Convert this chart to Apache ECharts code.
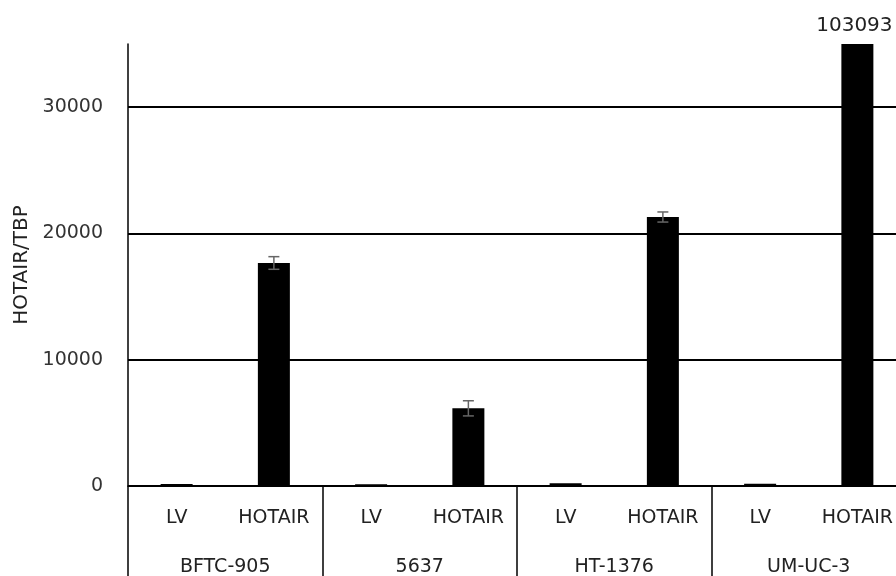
<!DOCTYPE html>
<html>
<head>
<meta charset="utf-8">
<script src="https://cdn.jsdelivr.net/npm/echarts@6/dist/echarts.min.js"></script>
<style>
html,body{margin:0;padding:0;background:#fff;}
#chart{width:896px;height:576px;}
</style>
</head>
<body>
<div id="chart"></div>
<script>
// ---- data ----
const groups = ['BFTC-905', '5637', 'HT-1376', 'UM-UC-3'];
const subLabels = ['LV', 'HOTAIR'];
const lvValues = [150, 130, 220, 180];
const hotairValues = [17660, 6150, 21300, 103093];
const hotairErrors = [500, 600, 400, null];
const yTicks = [0, 10000, 20000, 30000];
const yMax = 35000;
const labelledValue = 103093;

// ---- build ----
const categories = [];
const barValues = [];
const errData = [];
groups.forEach((g, i) => {
  categories.push(subLabels[0]);
  barValues.push(lvValues[i]);
  categories.push(subLabels[1]);
  barValues.push(hotairValues[i]);
  if (hotairErrors[i] != null) errData.push([i * 2 + 1, hotairValues[i], hotairErrors[i]]);
});

const font = 'DejaVu Sans';
const chart = echarts.init(document.getElementById('chart'), null, {renderer: 'canvas'});
chart.setOption({
  animation: false,
  backgroundColor: '#fff',
  grid: {left: 128, top: 44, width: 778, height: 442, containLabel: false, outerBoundsMode: 'none'},
  xAxis: [{
    type: 'category',
    data: categories,
    axisLine: {show: true, lineStyle: {color: '#000', width: 1.5}},
    axisTick: {show: false},
    axisLabel: {interval: 0, margin: 23, fontFamily: font, fontSize: 19, color: '#222'},
    splitLine: {show: false}
  }, {
    type: 'category',
    data: groups,
    position: 'bottom',
    axisLine: {show: false},
    axisTick: {show: true, length: 95, lineStyle: {color: '#000', width: 1.5}},
    axisLabel: {interval: 0, margin: 72, fontFamily: font, fontSize: 19, color: '#222'}
  }],
  yAxis: {
    type: 'value',
    min: 0,
    max: yMax,
    interval: 10000,
    name: 'HOTAIR/TBP',
    nameLocation: 'middle',
    nameRotate: 90,
    nameGap: 96,
    nameTextStyle: {fontFamily: font, fontSize: 20, color: '#222'},
    axisLine: {show: true, lineStyle: {color: '#000', width: 1.5}},
    axisTick: {show: false},
    axisLabel: {
      margin: 25, fontFamily: font, fontSize: 19, color: '#333', showMaxLabel: false,
      formatter: v => (yTicks.indexOf(v) >= 0 ? String(v) : '')
    },
    splitLine: {show: true, showMaxLine: false, lineStyle: {color: '#000', width: 2}}
  },
  series: [{
    type: 'bar',
    xAxisIndex: 0,
    barWidth: 32,
    clip: true,
    itemStyle: {color: '#000'},
    data: barValues.map(v => v === labelledValue ? {
      value: v,
      label: {show: true, position: 'top', distance: 8, offset: [-3, 0], formatter: String(v), fontFamily: font, fontSize: 20, color: '#222'}
    } : v)
  }, {
    type: 'custom',
    xAxisIndex: 0,
    clip: true,
    z: 5,
    data: errData,
    renderItem: function (params, api) {
      const x = api.value(0), v = api.value(1), e = api.value(2);
      const top = api.coord([x, v + e]);
      const bot = api.coord([x, v - e]);
      const hw = 5.5;
      const st = {stroke: '#666', lineWidth: 1.5};
      return {type: 'group', children: [
        {type: 'line', shape: {x1: top[0], y1: top[1], x2: bot[0], y2: bot[1]}, style: st},
        {type: 'line', shape: {x1: top[0] - hw, y1: top[1], x2: top[0] + hw, y2: top[1]}, style: st},
        {type: 'line', shape: {x1: bot[0] - hw, y1: bot[1], x2: bot[0] + hw, y2: bot[1]}, style: st}
      ]};
    }
  }]
});
</script>
</body>
</html>
